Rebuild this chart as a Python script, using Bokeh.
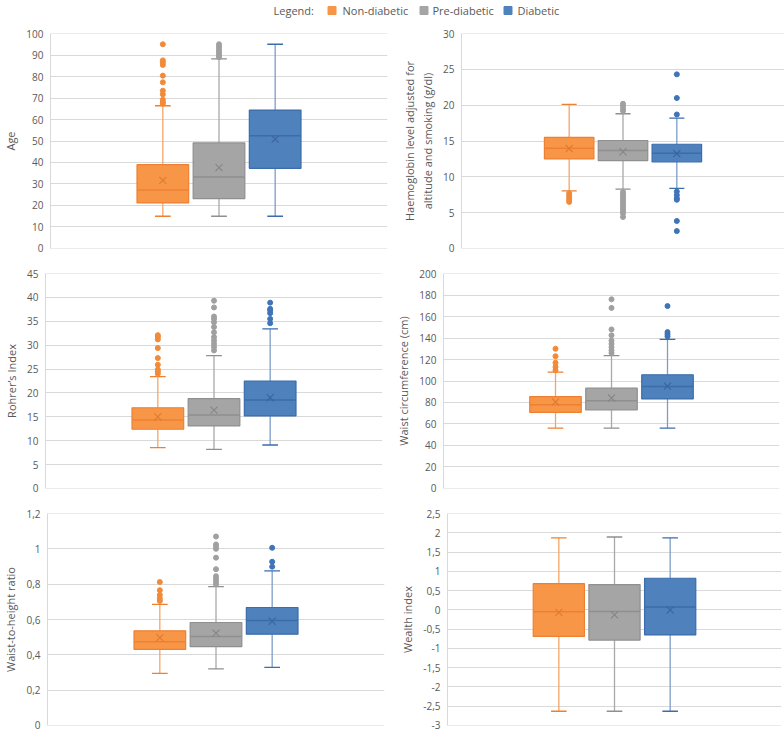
from bokeh.plotting import figure
from bokeh.layouts import column, row
from bokeh.models import Range1d, FixedTicker
from bokeh.core.properties import value
from bokeh.embed import file_html
from bokeh.resources import INLINE

# ---------------- data ----------------
groups = ["Non-diabetic", "Pre-diabetic", "Diabetic"]

age_low = [15, 15, 15]
age_q1 = [21.2, 23.2, 37.3]
age_median = [27.2, 33.3, 52.4]
age_q3 = [39.0, 49.1, 64.4]
age_high = [66.4, 88.2, 95]
age_mean = [31.7, 37.6, 50.9]
age_outliers = [[67.3, 68.1, 69.2, 71.7, 73.4, 77.3, 80.4, 85.4, 86.5, 87.5, 95],
                [89, 90, 91, 92, 93, 94, 95],
                []]
age_ticks = [0, 10, 20, 30, 40, 50, 60, 70, 80, 90, 100]
age_tick_labels = ["0", "10", "20", "30", "40", "50", "60", "70", "80", "90", "100"]

hb_low = [8.05, 8.28, 8.4]
hb_q1 = [12.5, 12.26, 12.1]
hb_median = [14.0, 13.66, 13.3]
hb_q3 = [15.5, 15.07, 14.55]
hb_high = [20.1, 18.8, 18.2]
hb_mean = [13.95, 13.5, 13.25]
hb_outliers = [[7.7, 7.4, 7.1, 6.8, 6.5],
               [20.2, 19.9, 19.5, 19.2, 7.9, 7.6, 7.3, 7.0, 6.7, 6.4, 6.1, 5.8, 5.5, 5.2, 4.9, 4.4],
               [24.3, 21.0, 18.7, 7.95, 7.45, 7.0, 6.8, 3.84, 2.43]]
hb_ticks = [0, 5, 10, 15, 20, 25, 30]
hb_tick_labels = ["0", "5", "10", "15", "20", "25", "30"]

ri_low = [8.54, 8.2, 9.1]
ri_q1 = [12.4, 13.1, 15.2]
ri_median = [14.35, 15.4, 18.5]
ri_q3 = [16.9, 18.8, 22.5]
ri_high = [23.4, 27.8, 33.4]
ri_mean = [15.0, 16.4, 19.0]
ri_outliers = [[24.0, 24.5, 24.9, 25.9, 27.3, 29.4, 31.2, 31.7, 32.1],
               [28.9, 29.6, 30.3, 31.0, 31.7, 32.7, 33.8, 34.8, 35.5, 36.0, 37.9, 39.3],
               [34.6, 35.5, 36.7, 37.3, 37.6, 38.9]]
ri_ticks = [0, 5, 10, 15, 20, 25, 30, 35, 40, 45]
ri_tick_labels = ["0", "5", "10", "15", "20", "25", "30", "35", "40", "45"]

wc_low = [56.2, 56.2, 56.2]
wc_q1 = [70.8, 73.0, 83.3]
wc_median = [78.0, 81.7, 94.9]
wc_q3 = [85.5, 93.3, 105.8]
wc_high = [108.3, 123.6, 138.8]
wc_mean = [80.5, 84.2, 95.2]
wc_outliers = [[110, 113, 117, 123, 130],
               [126, 128.5, 131.5, 134.5, 137.5, 142.5, 148, 168, 176],
               [141.5, 143.5, 145.5, 169.7]]
wc_ticks = [0, 20, 40, 60, 80, 100, 120, 140, 160, 180, 200]
wc_tick_labels = ["0", "20", "40", "60", "80", "100", "120", "140", "160", "180", "200"]

wh_low = [0.295, 0.32, 0.329]
wh_q1 = [0.431, 0.446, 0.517]
wh_median = [0.474, 0.504, 0.594]
wh_q3 = [0.536, 0.583, 0.668]
wh_high = [0.686, 0.786, 0.875]
wh_mean = [0.497, 0.523, 0.59]
wh_outliers = [[0.705, 0.72, 0.739, 0.766, 0.812],
               [0.80, 0.815, 0.83, 0.845, 0.885, 0.95, 1.0, 1.015, 1.025, 1.07],
               [0.899, 0.927, 1.006]]
wh_ticks = [0, 0.2, 0.4, 0.6, 0.8, 1, 1.2]
wh_tick_labels = ["0", "0,2", "0,4", "0,6", "0,8", "1", "1,2"]

wi_low = [-2.63, -2.63, -2.63]
wi_q1 = [-0.69, -0.785, -0.65]
wi_median = [-0.047, -0.04, 0.073]
wi_q3 = [0.68, 0.657, 0.82]
wi_high = [1.87, 1.89, 1.87]
wi_mean = [-0.064, -0.13, -0.004]
wi_outliers = [[], [], []]
wi_ticks = [-3, -2.5, -2, -1.5, -1, -0.5, 0, 0.5, 1, 1.5, 2, 2.5]
wi_tick_labels = ["-3", "-2,5", "-2", "-1,5", "-1", "-0,5", "0", "0,5", "1", "1,5", "2", "2,5"]

# ---------------- styles ----------------
FONT = "Open Sans"
TXT = "#595959"
GRID = "#D9D9D9"
FILL = ["#F79646", "#A5A5A5", "#4F81BD"]
EDGE = ["#EE8033", "#8F8F8F", "#3B6CAB"]
WHISK = ["#F6A469", "#A9A9A9", "#7D9DC9"]
MARK = ["#E07A30", "#858585", "#3A64A0"]
DOT = ["#F28A37", "#A0A0A0", "#3F74B8"]
BOX_W = 0.92
CAP_HW = 0.14


def panel(label, ticks, tick_labels, lo, q1, med, q3, hi, mean, outs,
          border_left, border_right, frame_w, frame_h, border_top, border_bottom):
    span = ticks[-1] - ticks[0]
    eps = span * 1e-6
    p = figure(frame_width=frame_w, frame_height=frame_h,
               x_range=Range1d(-2, 4), y_range=Range1d(ticks[0] - eps, ticks[-1] + eps),
               output_backend="svg", toolbar_location=None,
               min_border_left=border_left, min_border_right=border_right,
               min_border_top=border_top, min_border_bottom=border_bottom)
    xs = list(range(len(groups)))
    # whiskers
    p.segment(x0=xs, x1=xs, y0=q3, y1=hi, line_color=WHISK, line_width=1.3)
    p.segment(x0=xs, x1=xs, y0=q1, y1=lo, line_color=WHISK, line_width=1.3)
    p.segment(x0=[x - CAP_HW for x in xs], x1=[x + CAP_HW for x in xs], y0=hi, y1=hi,
              line_color=EDGE, line_width=1.3)
    p.segment(x0=[x - CAP_HW for x in xs], x1=[x + CAP_HW for x in xs], y0=lo, y1=lo,
              line_color=EDGE, line_width=1.3)
    # boxes
    p.vbar(x=xs, width=BOX_W, bottom=q1, top=q3, fill_color=FILL, line_color=EDGE, line_width=1.2)
    p.segment(x0=[x - BOX_W / 2 for x in xs], x1=[x + BOX_W / 2 for x in xs], y0=med, y1=med,
              line_color=EDGE, line_width=1.5)
    p.scatter(x=xs, y=mean, marker="x", size=10, line_color=MARK, line_width=1.1)
    # outliers
    ox, oy, oc = [], [], []
    for i, vals in enumerate(outs):
        for v in vals:
            ox.append(i)
            oy.append(v)
            oc.append(DOT[i])
    if ox:
        p.scatter(x=ox, y=oy, marker="circle", size=5, fill_color=oc, line_color=oc)

    p.xaxis.visible = False
    p.xgrid.visible = False
    p.ygrid.grid_line_color = GRID
    p.ygrid.grid_line_width = 1
    p.outline_line_color = None
    ax = p.yaxis[0]
    ax.ticker = FixedTicker(ticks=ticks)
    ax.major_label_overrides = {t: l for t, l in zip(ticks, tick_labels)}
    ax.major_tick_line_color = None
    ax.minor_tick_line_color = None
    ax.major_tick_out = 0
    ax.major_tick_in = 0
    ax.minor_tick_out = 0
    ax.axis_line_color = GRID
    ax.major_label_text_font = FONT
    ax.major_label_text_font_size = "10px"
    ax.major_label_text_color = TXT
    ax.major_label_standoff = 7
    ax.axis_label = label
    ax.axis_label_text_font = FONT
    ax.axis_label_text_font_size = "11px"
    ax.axis_label_text_font_style = "normal"
    ax.axis_label_text_color = TXT
    ax.axis_label_standoff = 5
    return p


# rows (left column: frame x 45..382, right column starts at 390)
p1 = panel("Age", age_ticks, age_tick_labels, age_low, age_q1, age_median, age_q3, age_high, age_mean,
           age_outliers, 45, 8, 337, 215, 9, 12)
p2 = panel("Haemoglobin level adjusted for\naltitude and smoking (g/dl)", hb_ticks, hb_tick_labels,
           hb_low, hb_q1, hb_median, hb_q3, hb_high, hb_mean, hb_outliers, 66, 5, 323, 215, 9, 12)
p3 = panel("Rohrer\u2019s Index", ri_ticks, ri_tick_labels, ri_low, ri_q1, ri_median, ri_q3, ri_high,
           ri_mean, ri_outliers, 45, 8, 337, 215, 13, 12)
p4 = panel("Waist circumference (cm)", wc_ticks, wc_tick_labels, wc_low, wc_q1, wc_median, wc_q3,
           wc_high, wc_mean, wc_outliers, 53, 5, 336, 215, 13, 12)
p5 = panel("Waist-to-height ratio", wh_ticks, wh_tick_labels, wh_low, wh_q1, wh_median, wh_q3,
           wh_high, wh_mean, wh_outliers, 45, 8, 337, 212, 13, 7)
p6 = panel("Wealth index", wi_ticks, wi_tick_labels, wi_low, wi_q1, wi_median, wi_q3, wi_high,
           wi_mean, wi_outliers, 55, 5, 334, 212, 13, 7)

# legend strip
leg = figure(width=784, height=24, x_range=Range1d(0, 784), y_range=Range1d(0, 24),
             output_backend="svg", toolbar_location=None,
             min_border_left=0, min_border_right=0, min_border_top=0, min_border_bottom=0)
leg.axis.visible = False
leg.grid.visible = False
leg.outline_line_color = None
leg_sq_x = [331.5, 423.5, 507.5]
leg_txt_x = [342, 432, 517]
leg.text(x=[273], y=[14], text=["Legend:"], text_font=value(FONT), text_font_size="11px",
         text_color=TXT, text_baseline="middle")
leg.scatter(x=leg_sq_x, y=[14, 14, 14], marker="square", size=8, fill_color=FILL, line_color=FILL)
leg.text(x=leg_txt_x, y=[14, 14, 14], text=groups, text_font=value(FONT), text_font_size="11px",
         text_color=TXT, text_baseline="middle")

layout = column(leg, row(p1, p2), row(p3, p4), row(p5, p6))
open("out.html", "w").write(file_html(layout, INLINE))
